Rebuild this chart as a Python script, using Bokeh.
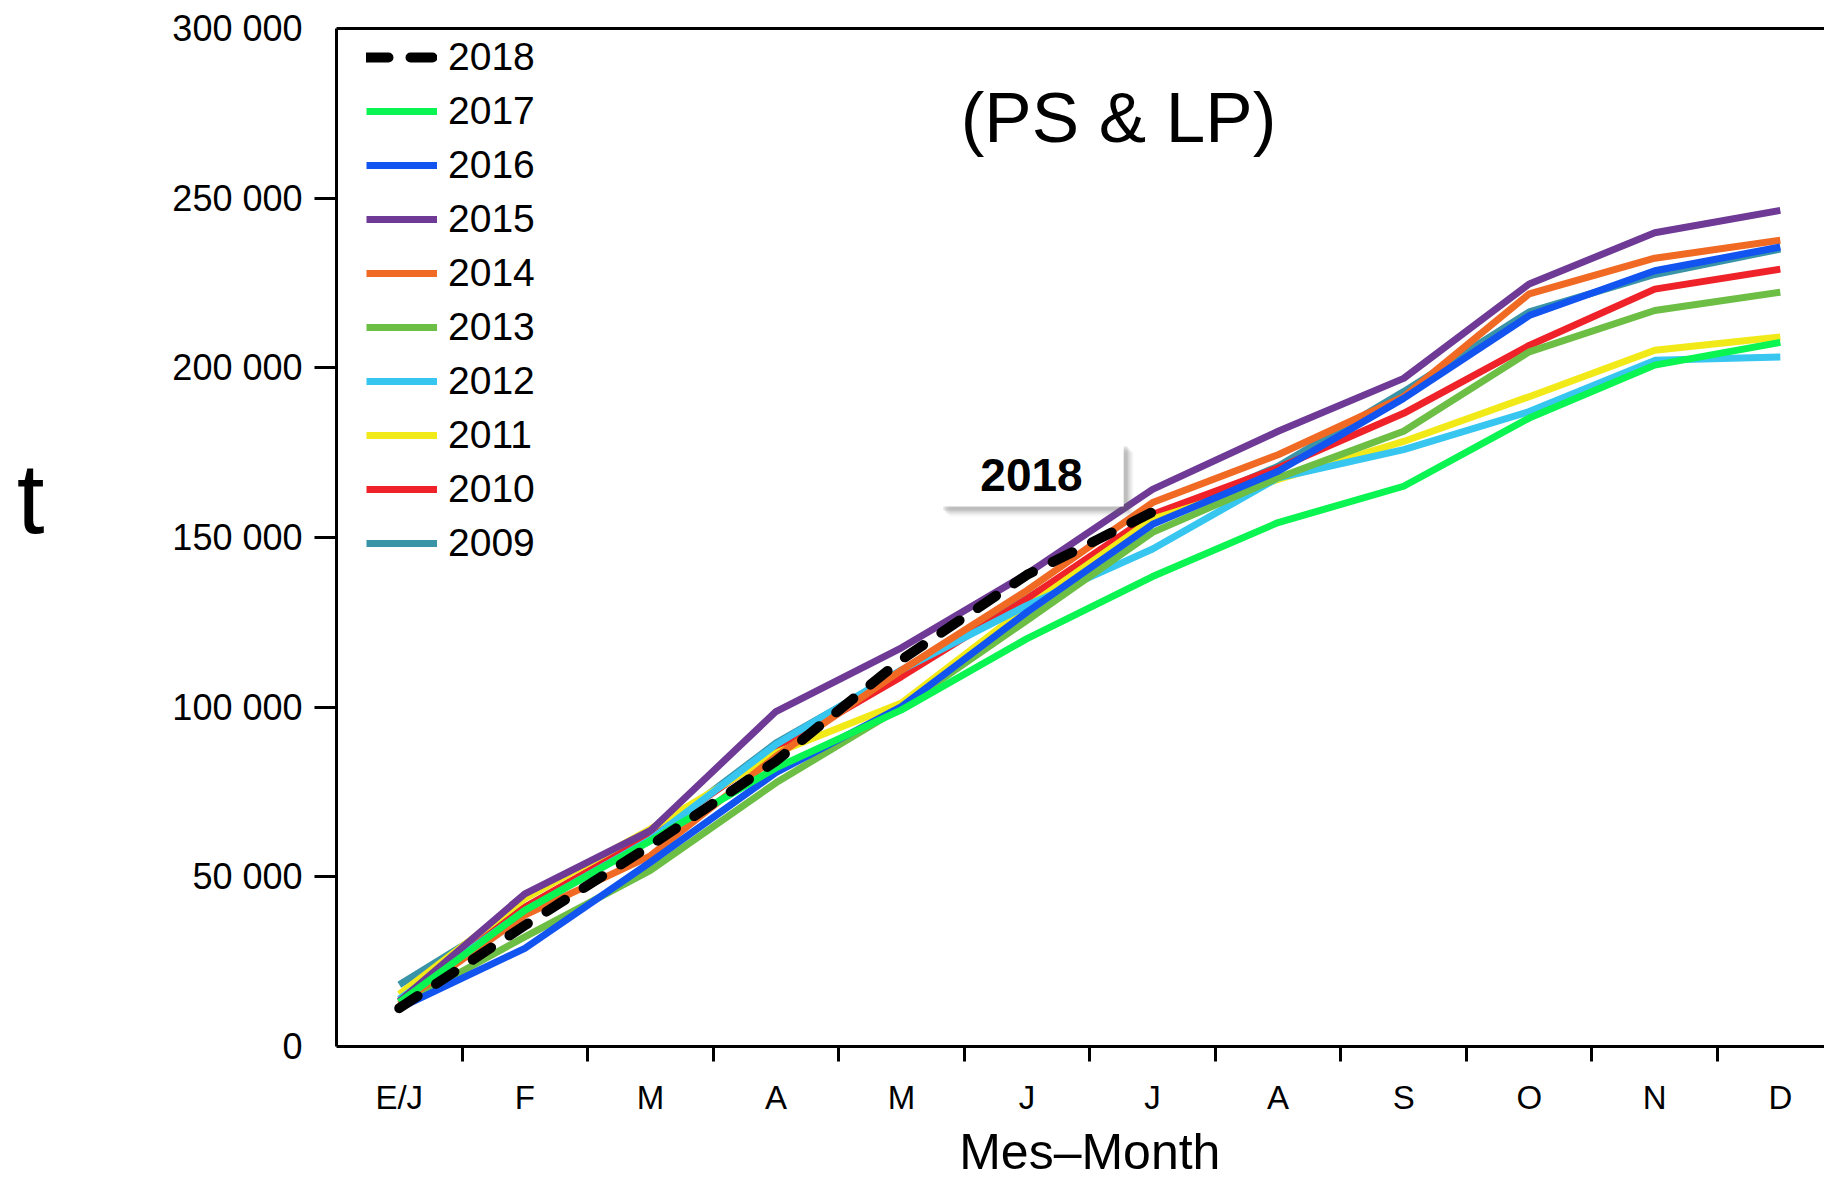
from bokeh.plotting import figure
from bokeh.models import Range1d, FixedTicker, LinearAxis, Label, Legend, LegendItem
from bokeh.embed import file_html
from bokeh.resources import INLINE

# ---------------- data ----------------
months = ["E/J", "F", "M", "A", "M", "J", "J", "A", "S", "O", "N", "D"]
y_ticks = [0, 50000, 100000, 150000, 200000, 250000, 300000]
y_tick_labels = ["0", "50 000", "100 000", "150 000", "200 000", "250 000", "300 000"]

v2018 = [11300, 35700, 59200, 84100, 114000, 139000, 157500]
v2017 = [13000, 40100, 60600, 82100, 99200, 120200, 138500, 154400, 165100, 185200, 200800, 207500]
v2016 = [11300, 28900, 54300, 80700, 100200, 128000, 153900, 169500, 191000, 215400, 228600, 235600]
v2015 = [13300, 45000, 63600, 98700, 117500, 139300, 164200, 181300, 196900, 224700, 239800, 246400]
v2014 = [12500, 38700, 56200, 85500, 110900, 134400, 160300, 174400, 191500, 221800, 232300, 237600]
v2013 = [12000, 32300, 51900, 77700, 100000, 125600, 151500, 167600, 181300, 204700, 216900, 222300]
v2012 = [14000, 40000, 61000, 89000, 111000, 130000, 146600, 167600, 175900, 187100, 202200, 203200]
v2011 = [15400, 43600, 64100, 86500, 101200, 129500, 155400, 167100, 178300, 191500, 205200, 209100]
v2010 = [13500, 41000, 62100, 87500, 109000, 131900, 156800, 170500, 186600, 206600, 223200, 229100]
v2009 = [18200, 41000, 61500, 89400, 110500, 132000, 155000, 171000, 193000, 216500, 227500, 235000]

years = ["2018", "2017", "2016", "2015", "2014", "2013", "2012", "2011", "2010", "2009"]
series = [v2018, v2017, v2016, v2015, v2014, v2013, v2012, v2011, v2010, v2009]
colors = ["#000000", "#0AF452", "#1254F0", "#6E3A96", "#F06A24",
          "#6CBE44", "#36C6F0", "#F2EA18", "#EE2228", "#3A94A8"]

x_title = "Mes\u2013Month"
y_title = "t"
chart_title = "(PS & LP)"
callout = "2018"

FONT = "Liberation Sans"

# ---------------- figure ----------------
p = figure(width=1824, height=1182, output_backend="svg", toolbar_location=None,
           x_range=Range1d(-0.5, 11.352), y_range=Range1d(0, 300000),
           min_border_left=336, min_border_right=0, min_border_top=28, min_border_bottom=130,
           x_axis_type=None, y_axis_type=None)
p.outline_line_color = None
p.background_fill_color = "white"
p.border_fill_color = "white"
p.xgrid.visible = False
p.ygrid.visible = False

# bottom axis: month labels at centers, boundary ticks between months
xaxis = LinearAxis(ticker=FixedTicker(ticks=list(range(len(months))),
                                      minor_ticks=[i + 0.5 for i in range(len(months) - 1)]))
xaxis.major_label_overrides = {i: m for i, m in enumerate(months)}
xaxis.major_tick_line_color = None
xaxis.major_tick_out = 15
xaxis.major_tick_in = 0
xaxis.minor_tick_line_color = "black"
xaxis.minor_tick_line_width = 3
xaxis.minor_tick_out = 15
xaxis.minor_tick_in = 0
xaxis.axis_line_width = 3
xaxis.axis_line_color = "black"
xaxis.major_label_standoff = 17
xaxis.major_label_text_font = FONT
xaxis.major_label_text_font_size = "33px"
xaxis.major_label_text_color = "black"
p.add_layout(xaxis, "below")

# x title, carried by a second bottom axis with a single centred tick
xtitle_axis = LinearAxis(ticker=FixedTicker(ticks=[5.5]))
xtitle_axis.major_label_overrides = {5.5: x_title}
xtitle_axis.axis_line_color = None
xtitle_axis.major_tick_line_color = None
xtitle_axis.minor_tick_line_color = None
xtitle_axis.major_tick_out = 0
xtitle_axis.major_tick_in = 0
xtitle_axis.major_label_standoff = 5
xtitle_axis.major_label_text_font = FONT
xtitle_axis.major_label_text_font_size = "50px"
xtitle_axis.major_label_text_color = "black"
p.add_layout(xtitle_axis, "below")

# left axis
yaxis = LinearAxis(ticker=FixedTicker(ticks=y_ticks, minor_ticks=y_ticks[1:-1]))
yaxis.major_label_overrides = {t: l for t, l in zip(y_ticks, y_tick_labels)}
yaxis.major_tick_line_color = None
yaxis.major_tick_out = 22
yaxis.major_tick_in = 0
yaxis.minor_tick_line_color = "black"
yaxis.minor_tick_line_width = 3
yaxis.minor_tick_out = 22
yaxis.minor_tick_in = 0
yaxis.axis_line_width = 3
yaxis.axis_line_color = "black"
yaxis.major_label_standoff = 12
yaxis.major_label_text_font = FONT
yaxis.major_label_text_font_size = "36px"
yaxis.major_label_text_color = "black"
p.add_layout(yaxis, "left")

# y title "t", horizontal, carried by a second left axis
ytitle_axis = LinearAxis(ticker=FixedTicker(ticks=[161700]))
ytitle_axis.major_label_overrides = {161700: y_title}
ytitle_axis.axis_line_color = None
ytitle_axis.major_tick_line_color = None
ytitle_axis.minor_tick_line_color = None
ytitle_axis.major_tick_out = 0
ytitle_axis.major_tick_in = 0
ytitle_axis.major_label_standoff = 125
ytitle_axis.major_label_text_font = FONT
ytitle_axis.major_label_text_font_size = "100px"
ytitle_axis.major_label_text_color = "black"
p.add_layout(ytitle_axis, "left")

# top border line
top_axis = LinearAxis(ticker=FixedTicker(ticks=[]))
top_axis.major_tick_line_color = None
top_axis.minor_tick_line_color = None
top_axis.major_label_text_font_size = "0px"
top_axis.axis_line_width = 3
top_axis.axis_line_color = "black"
p.add_layout(top_axis, "above")

# ---------------- lines ----------------
renderers = {}
for yr, vals, col in reversed(list(zip(years, series, colors))):
    xs = list(range(len(vals)))
    if yr == "2018":
        r = p.line(xs, vals, line_color=col, line_width=10, line_dash="22 22",
                   line_cap="round", line_join="round")
    else:
        r = p.line(xs, vals, line_color=col, line_width=7, line_join="round")
    renderers[yr] = r

legend = Legend(items=[LegendItem(label=yr, renderers=[renderers[yr]]) for yr in years],
                location=(30, 481), orientation="vertical",
                glyph_width=71, glyph_height=44, label_height=44, spacing=10,
                label_standoff=11, padding=0, margin=0,
                border_line_color=None, background_fill_alpha=0)
legend.label_text_font = FONT
legend.label_text_font_size = "39px"
legend.label_text_color = "black"
p.add_layout(legend)

# ---------------- texts ----------------
p.add_layout(Label(x=782, y=929, x_units="screen", y_units="screen", text=chart_title,
                   text_font=FONT, text_font_size="71px", text_color="black",
                   text_align="center", text_baseline="alphabetic"))

# "2018" callout box with soft shadow
pad = dict(left=41, right=41, top=16, bottom=16)
for off, a in [(10, 0.05), (8, 0.10), (6, 0.14), (4, 0.18)]:
    p.add_layout(Label(x=695 + off, y=572 - off, x_units="screen", y_units="screen", text=callout,
                       text_font=FONT, text_font_size="46px", text_font_style="bold",
                       text_color="#606060", text_alpha=0.001,
                       text_align="center", text_baseline="middle",
                       background_fill_color="#606060", background_fill_alpha=a,
                       padding=pad))
p.add_layout(Label(x=695, y=572, x_units="screen", y_units="screen", text=callout,
                   text_font=FONT, text_font_size="46px", text_font_style="bold",
                   text_color="black", text_align="center", text_baseline="middle",
                   background_fill_color="white", background_fill_alpha=1.0,
                   padding=pad))

open("out.html", "w").write(file_html(p, INLINE))
